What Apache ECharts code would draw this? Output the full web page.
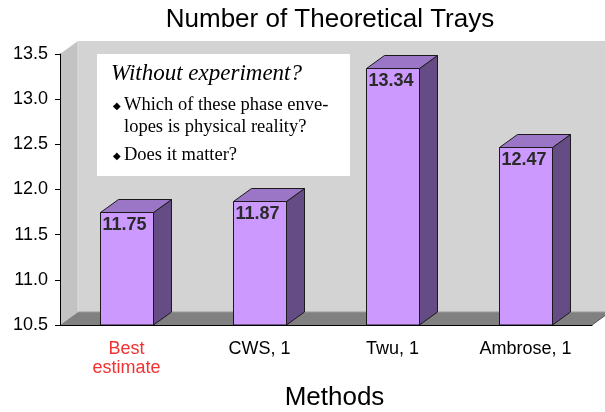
<!DOCTYPE html>
<html>
<head>
<meta charset="utf-8">
<style>
  html, body { margin: 0; padding: 0; background: #ffffff; }
  #chart { width: 605px; height: 412px; }
</style>
<script src="https://cdn.jsdelivr.net/npm/echarts@6/dist/echarts.min.js"></script>
</head>
<body>
<div id="chart"></div>
<script>
// Methods compared and the number of theoretical trays each one predicts
const methods = ['Best\nestimate', 'CWS, 1', 'Twu, 1', 'Ambrose, 1'];
const trays = [11.75, 11.87, 13.34, 12.47];
const yTicks = { min: 10.5, max: 13.5, step: 0.5 };

// Depth of the pseudo-3D box (screen pixels)
const DX = 18, DY = -13;

const sans = '"Liberation Sans", Arial, sans-serif';
const serif = '"Liberation Serif", "Times New Roman", serif';

const chart = echarts.init(document.getElementById('chart'));

// Back wall, side wall and floor of the plot box
function renderWalls(params, api) {
  const cs = params.coordSys;
  const x = cs.x, y = cs.y, w = cs.width, h = cs.height;
  return {
    type: 'group',
    children: [
      { type: 'rect', shape: { x: x + DX, y: y + DY, width: w + 40, height: h },
        style: { fill: '#d3d3d3' } },
      { type: 'polygon', shape: { points: [[x, y], [x + DX, y + DY], [x + DX, y + h + DY], [x, y + h]] },
        style: { fill: '#c3c3c3' } },
      { type: 'line', shape: { x1: x + DX, y1: y + DY, x2: x + DX, y2: y + h + DY },
        style: { stroke: '#dedede', lineWidth: 1 } },
      { type: 'polygon', shape: { points: [[x, y + h], [x + DX, y + h + DY], [x + w + DX, y + h + DY], [x + w, y + h]] },
        style: { fill: '#808080' } },
      { type: 'line', shape: { x1: x + DX, y1: y + h + DY, x2: x + w + DX, y2: y + h + DY },
        style: { stroke: '#999999', lineWidth: 1 } },
      { type: 'line', shape: { x1: x + w, y1: y + h, x2: x + w + DX, y2: y + h + DY },
        style: { stroke: '#555555', lineWidth: 1 } }
    ]
  };
}

// A box-shaped bar: front face, right side and top, with its value printed inside
function renderBar(params, api) {
  const idx = api.value(0);
  const val = api.value(1);
  const base = api.coord([idx, yTicks.min]);
  const top = api.coord([idx, val]);
  const bw = api.size([1, 0])[0] * 0.395;
  const x0 = Math.round(base[0] - bw / 2) + 0.5;
  const x1 = x0 + Math.round(bw);
  const yb = base[1];
  const yt = Math.round(top[1]) + 0.5;
  const edge = { stroke: '#1a1a1a', lineWidth: 1, lineJoin: 'round' };
  return {
    type: 'group',
    children: [
      { type: 'polygon', shape: { points: [[x1, yt], [x1 + DX, yt + DY], [x1 + DX, yb + DY], [x1, yb]] },
        style: Object.assign({ fill: '#654c84' }, edge) },
      { type: 'polygon', shape: { points: [[x0, yt], [x0 + DX, yt + DY], [x1 + DX, yt + DY], [x1, yt]] },
        style: Object.assign({ fill: '#9c76c6' }, edge) },
      { type: 'rect', shape: { x: x0, y: yt, width: x1 - x0, height: yb - yt },
        style: Object.assign({ fill: '#cc99ff' }, edge) },
      { type: 'text', x: x0 + 2, y: yt + 4,
        style: { text: val.toFixed(2), fill: '#2a2a2a', font: 'bold 18px ' + sans,
                 textAlign: 'left', textVerticalAlign: 'top' } }
    ]
  };
}

chart.setOption({
  animation: false,
  title: {
    text: 'Number of Theoretical Trays',
    left: 325, top: 2, textAlign: 'center',
    textStyle: { fontFamily: sans, fontSize: 26, fontWeight: 'normal', color: '#000' }
  },
  grid: { left: 60, right: 13, top: 54, bottom: 87, containLabel: false, outerBoundsMode: 'none' },
  xAxis: {
    type: 'category',
    data: methods,
    name: 'Methods',
    nameLocation: 'middle',
    nameGap: 60,
    nameTextStyle: { fontFamily: sans, fontSize: 26, color: '#000', padding: [0, 0, 0, 17] },
    axisLine: { lineStyle: { color: '#000', width: 1 } },
    axisTick: { length: 5, lineStyle: { color: '#000' } },
    axisLabel: {
      margin: 15, fontSize: 18, lineHeight: 19,
      fontFamily: sans,
      color: (v, i) => (i === 0 ? '#f03232' : '#000')
    },
    z: 5
  },
  yAxis: {
    type: 'value',
    min: yTicks.min, max: yTicks.max, interval: yTicks.step,
    axisLine: { show: true, lineStyle: { color: '#000', width: 1 } },
    axisTick: { show: true, length: 5, lineStyle: { color: '#000' } },
    splitLine: { show: false },
    axisLabel: {
      margin: 12, fontSize: 18, color: '#000',
      fontFamily: sans,
      formatter: v => v.toFixed(1)
    },
    z: 5
  },
  graphic: [
    { type: 'group', left: 97, top: 54, z: 10, children: [
      { type: 'rect', shape: { x: 0, y: 0, width: 253, height: 122 }, style: { fill: '#ffffff' } },
      { type: 'text', x: 14, y: 20, style: { text: 'Without experiment?', font: 'italic 23px ' + serif, fill: '#000', textVerticalAlign: 'middle' } },
      { type: 'text', x: 16, y: 52, style: { text: '◆', font: '10px "DejaVu Sans"', fill: '#000', textVerticalAlign: 'middle' } },
      { type: 'text', x: 27, y: 51, style: { text: 'Which of these phase enve-', font: '18.5px ' + serif, fill: '#000', textVerticalAlign: 'middle' } },
      { type: 'text', x: 27, y: 73, style: { text: 'lopes is physical reality?', font: '18.5px ' + serif, fill: '#000', textVerticalAlign: 'middle' } },
      { type: 'text', x: 16, y: 102, style: { text: '◆', font: '10px "DejaVu Sans"', fill: '#000', textVerticalAlign: 'middle' } },
      { type: 'text', x: 27, y: 101, style: { text: 'Does it matter?', font: '18.5px ' + serif, fill: '#000', textVerticalAlign: 'middle' } }
    ] }
  ],
  series: [
    { type: 'custom', z: -1, data: [0], renderItem: renderWalls, silent: true },
    { type: 'custom', z: 3, data: trays.map((v, i) => [i, v]), renderItem: renderBar,
      encode: { x: 0, y: 1 }, clip: false }
  ]
});
</script>
</body>
</html>
